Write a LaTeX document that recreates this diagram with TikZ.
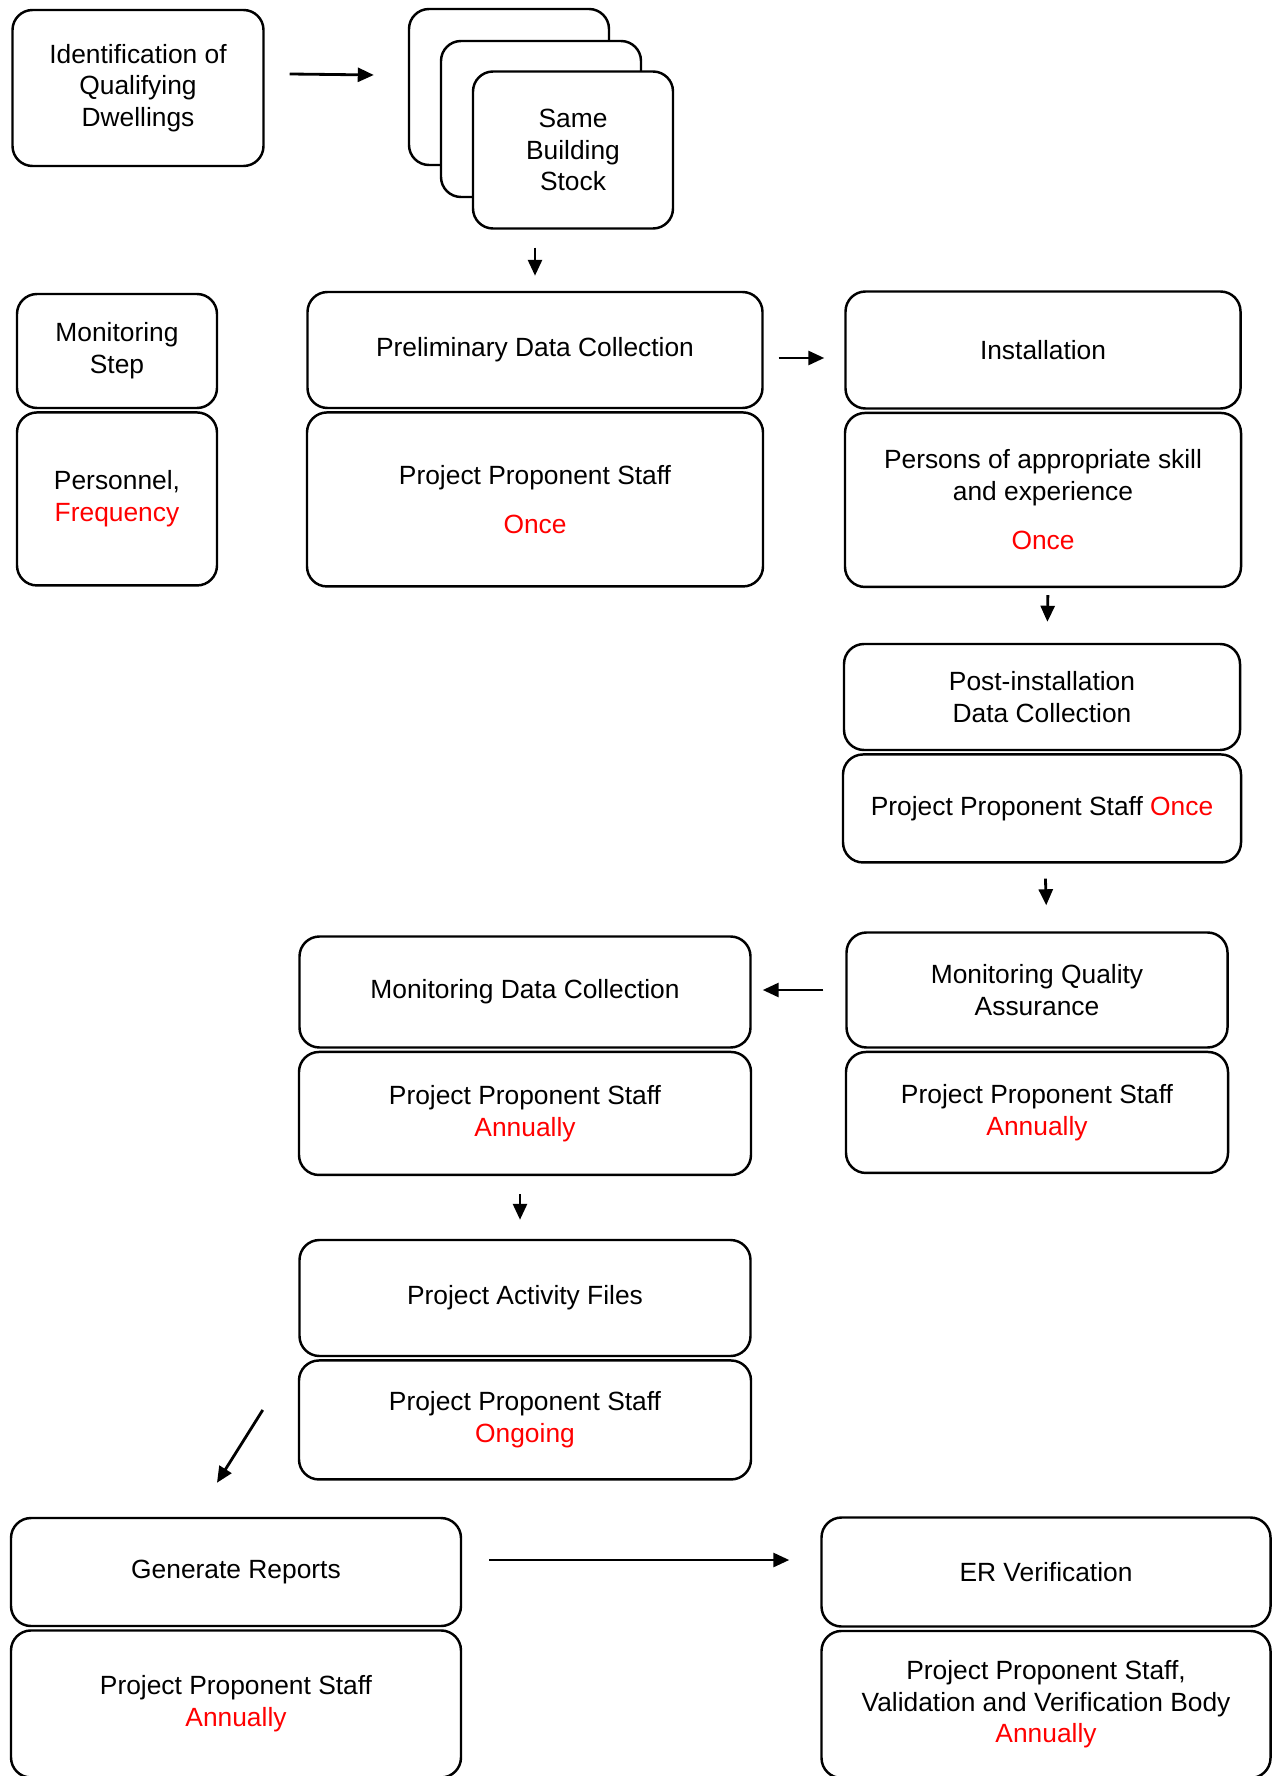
\documentclass[tikz,border=0pt]{standalone}
\usepackage{fontspec}
\setmainfont{Liberation Sans}
\usetikzlibrary{arrows.meta,positioning}
\tikzset{
% Boxes of the chart: a step on top, who does it and how often below
box/.style={draw,rounded corners=0.2cm,line width=0.7pt,align=center,inner sep=2pt,
  fill=white,font=\fontsize{7.5}{9}\selectfont},
arr/.style={-{Triangle[length=0.16cm,width=0.14cm]},line width=0.8pt}
}
\newcommand{\freq}[1]{\textcolor{red}{#1}}

\begin{document}
\begin{tikzpicture}
      % Page frame
      \useasboundingbox (0,0) rectangle (12.75,-17.76);
      % Top row
      \node(idq)[box,minimum width=2.51cm,minimum height=1.56cm] at (1.38,-0.88)
        {Identification of\\Qualifying\\Dwellings};
      % Stacked cards for the building stock
      \node(stockA)[box,minimum width=2cm,minimum height=1.56cm] at (5.09,-0.87) {};
      \node(stockB)[box,minimum width=2cm,minimum height=1.56cm] at (5.41,-1.19) {};
      \node(stock)[box,minimum width=2cm,minimum height=1.57cm] at (5.73,-1.5)
        {Same\\Building\\Stock};
      % Legend
      \node(mstep)[box,minimum width=2cm,minimum height=1.14cm] at (1.17,-3.51)
        {Monitoring\\Step};
      \node(mpers)[box,minimum width=2cm,minimum height=1.73cm,below=0.02cm of mstep]
        {Personnel,\\\freq{Frequency}};
      % Preliminary data collection
      \node(pdc)[box,minimum width=4.55cm,minimum height=1.16cm] at (5.35,-3.5)
        {Preliminary Data Collection};
      \node(pdcwho)[box,minimum width=4.56cm,minimum height=1.74cm,below=0.02cm of pdc]
        {Project Proponent Staff\\[5pt]\freq{Once}};
      % Installation
      \node(inst)[box,minimum width=3.95cm,minimum height=1.17cm] at (10.43,-3.5)
        {Installation};
      \node(instwho)[box,minimum width=3.96cm,minimum height=1.74cm,below=0.02cm of inst]
        {Persons of appropriate skill\\and experience\\[5pt]\freq{Once}};
      % Post-installation
      \node(post)[box,minimum width=3.96cm,minimum height=1.06cm] at (10.42,-6.97)
        {Post-installation\\Data Collection};
      \node(postwho)[box,minimum width=3.98cm,minimum height=1.08cm,below=0.02cm of post]
        {Project Proponent Staff \freq{Once}};
      % Quality assurance
      \node(mqa)[box,minimum width=3.81cm,minimum height=1.15cm] at (10.37,-9.9)
        {Monitoring Quality\\Assurance};
      \node(mqawho)[box,minimum width=3.82cm,minimum height=1.21cm,below=0.02cm of mqa]
        {Project Proponent Staff\\\freq{Annually}};
      % Monitoring data
      \node(mdc)[box,minimum width=4.51cm,minimum height=1.11cm] at (5.25,-9.92)
        {Monitoring Data Collection};
      \node(mdcwho)[box,minimum width=4.52cm,minimum height=1.23cm,below=0.02cm of mdc]
        {Project Proponent Staff\\\freq{Annually}};
      % Activity files
      \node(paf)[box,minimum width=4.51cm,minimum height=1.16cm] at (5.25,-12.98)
        {Project Activity Files};
      \node(pafwho)[box,minimum width=4.52cm,minimum height=1.19cm,below=0.02cm of paf]
        {Project Proponent Staff\\\freq{Ongoing}};
      % Reports
      \node(genr)[box,minimum width=4.5cm,minimum height=1.08cm] at (2.36,-15.72)
        {Generate Reports};
      \node(genrwho)[box,minimum width=4.5cm,minimum height=1.47cm,below=0.02cm of genr]
        {Project Proponent Staff\\\freq{Annually}};
      % Verification
      \node(erv)[box,minimum width=4.49cm,minimum height=1.09cm] at (10.46,-15.72)
        {ER Verification};
      \node(ervwho)[box,minimum width=4.49cm,minimum height=1.47cm,below=0.02cm of erv]
        {Project Proponent Staff,\\Validation and Verification Body\\\freq{Annually}};
      % Arrows
      \draw[arr]([xshift=0.25cm,yshift=0.14cm]idq.east)--([xshift=-0.34cm,yshift=0.12cm]stockA.west);
      \draw[arr,shorten <=0.18cm,shorten >=0.15cm](pdc.north |- stock.south)--(pdc.north);
      \draw[arr,shorten <=0.15cm,shorten >=0.2cm]([yshift=-0.08cm]pdc.east)--([yshift=-0.08cm]pdc.east -| inst.west);
      \draw[arr,shorten <=0.07cm,shorten >=0.21cm]([xshift=0.05cm]instwho.south)--([xshift=0.05cm]post.north);
      \draw[arr,shorten <=0.15cm,shorten >=0.26cm]([xshift=0.03cm]postwho.south)--([xshift=0.1cm]mqa.north);
      \draw[arr,shorten <=0.22cm,shorten >=0.11cm](mqa.west)--(mqa.west -| mdc.east);
      \draw[arr,shorten <=0.18cm,shorten >=0.19cm]([xshift=-0.05cm]mdcwho.south)--([xshift=-0.05cm]paf.north);
      \draw[arr]([xshift=-0.35cm,yshift=0.1cm]pafwho.west)--([xshift=-0.19cm,yshift=0.34cm]genr.north);
      \draw[arr,shorten <=0.27cm,shorten >=0.31cm]([yshift=0.12cm]genr.east)--([yshift=0.12cm]genr.east -| erv.west);
\end{tikzpicture}
\end{document}
